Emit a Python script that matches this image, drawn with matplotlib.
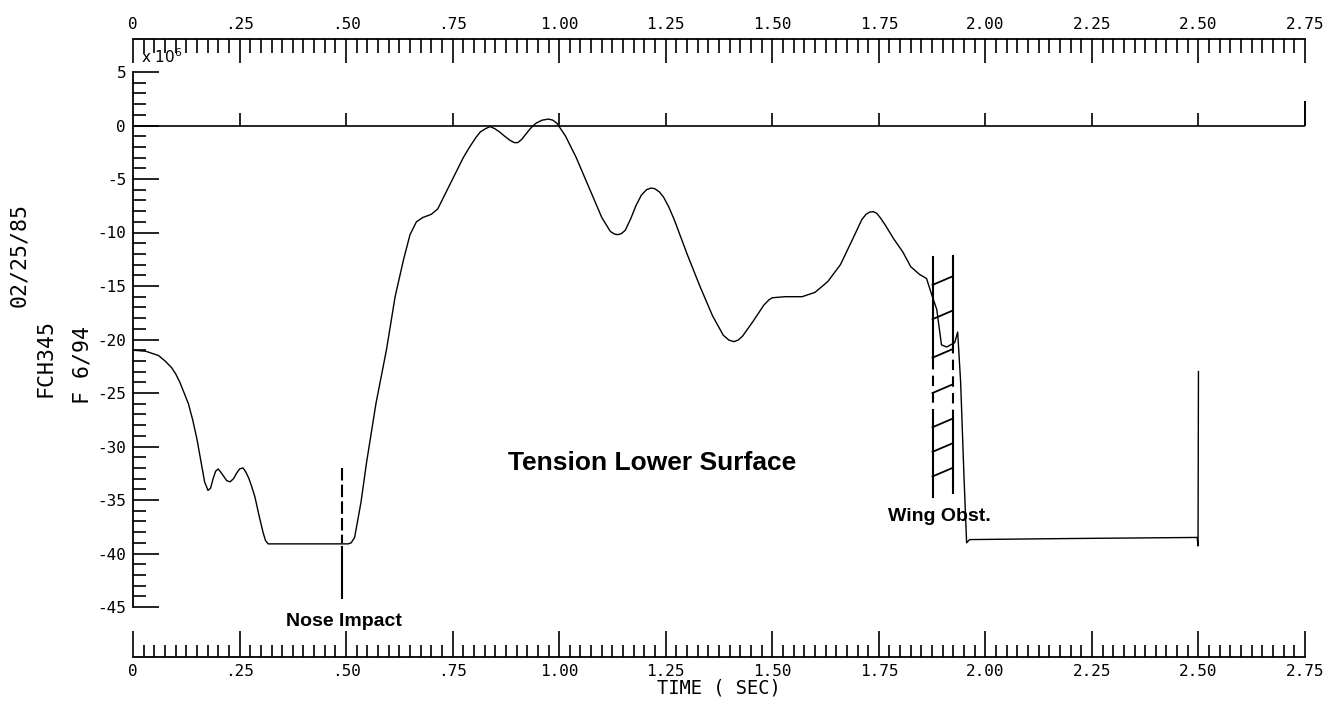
import numpy as np
import matplotlib
matplotlib.use("Agg")
import matplotlib.pyplot as plt
from matplotlib.ticker import MultipleLocator

# Data (time in sec, force x 10^6)
t_vals = [0.0, 0.03, 0.06, 0.075, 0.09, 0.10, 0.11, 0.12, 0.13, 0.14,
          0.15, 0.16, 0.168, 0.176, 0.182, 0.188, 0.194, 0.200, 0.206, 0.213,
          0.220, 0.228, 0.236, 0.243, 0.250, 0.258, 0.265, 0.272, 0.279, 0.286,
          0.296, 0.305, 0.311, 0.317, 0.40, 0.505, 0.512, 0.52, 0.535, 0.548,
          0.570, 0.595, 0.615, 0.635, 0.650, 0.665, 0.680, 0.700, 0.715, 0.730,
          0.755, 0.775, 0.790, 0.805, 0.815, 0.827, 0.838, 0.849, 0.860, 0.872,
          0.885, 0.895, 0.903, 0.912, 0.920, 0.932, 0.945, 0.960, 0.975, 0.985,
          0.995, 1.005, 1.015, 1.04, 1.07, 1.10, 1.12, 1.13, 1.138, 1.146,
          1.155, 1.168, 1.18, 1.193, 1.205, 1.215, 1.224, 1.235, 1.245, 1.257,
          1.27, 1.30, 1.33, 1.36, 1.385, 1.398, 1.41, 1.42, 1.43, 1.455,
          1.48, 1.492, 1.50, 1.53, 1.57, 1.60, 1.63, 1.66, 1.69, 1.71,
          1.72, 1.728, 1.737, 1.745, 1.755, 1.765, 1.785, 1.806, 1.825, 1.845,
          1.862, 1.874, 1.886, 1.897, 1.909, 1.928, 1.935, 1.942, 1.950, 1.956,
          1.963, 2.20, 2.497, 2.499, 2.500]
f_vals = [-21.0, -21.1, -21.5, -22.0, -22.6, -23.2, -24.0, -25.0, -26.0, -27.5,
          -29.3, -31.5, -33.3, -34.1, -33.9, -33.0, -32.3, -32.1, -32.4, -32.8,
          -33.2, -33.3, -33.0, -32.5, -32.1, -32.0, -32.4, -33.0, -33.8, -34.7,
          -36.5, -38.0, -38.8, -39.1, -39.1, -39.1, -39.0, -38.5, -35.2, -31.5,
          -26.0, -20.9, -16.0, -12.5, -10.2, -9.0, -8.6, -8.3, -7.8, -6.6,
          -4.6, -3.0, -2.0, -1.1, -0.6, -0.3, -0.1, -0.3, -0.6, -1.0,
          -1.4, -1.6, -1.6, -1.3, -0.9, -0.3, 0.2, 0.5, 0.6, 0.5,
          0.2, -0.4, -1.0, -3.0, -5.8, -8.6, -9.9, -10.15, -10.2, -10.1,
          -9.8, -8.7, -7.5, -6.5, -6.0, -5.85, -5.9, -6.2, -6.7, -7.6,
          -8.8, -12.0, -15.0, -17.8, -19.6, -20.05, -20.2, -20.05, -19.7, -18.3,
          -16.8, -16.3, -16.1, -16.0, -16.0, -15.6, -14.6, -13.0, -10.5, -8.8,
          -8.3, -8.1, -8.05, -8.2, -8.7, -9.3, -10.6, -11.8, -13.2, -13.9,
          -14.3, -15.8, -17.2, -20.5, -20.7, -20.3, -19.3, -24.0, -33.0, -39.0,
          -38.7, -38.6, -38.5, -39.3, -23.0]

x_ticks = [0, 0.25, 0.5, 0.75, 1.0, 1.25, 1.5, 1.75, 2.0, 2.25, 2.5, 2.75]
x_labels = ["0", ".25", ".50", ".75", "1.00", "1.25", "1.50", "1.75",
            "2.00", "2.25", "2.50", "2.75"]
y_ticks = [5, 0, -5, -10, -15, -20, -25, -30, -35, -40, -45]
y_labels = ["5", "0", "-5", "-10", "-15", "-20", "-25", "-30", "-35", "-40", "-45"]

# event markers
nose_t = 0.49
wing_t = [1.876, 1.923]
hatch_levels = [-14.9, -18.1, -21.7, -25.0, -28.2, -30.5, -32.8]

W, H = 1342, 710
fig = plt.figure(figsize=(W / 100, H / 100), dpi=100)
ax = fig.add_axes([133 / W, 1 - 607 / H, 1172 / W, 535 / H])
ax.set_xlim(0, 2.75)
ax.set_ylim(-45, 5)

for s in ["top", "right", "bottom"]:
    ax.spines[s].set_visible(False)
ax.spines["left"].set_linewidth(1.3)
ax.tick_params(axis="x", bottom=False, labelbottom=False)

mono = "DejaVu Sans Mono"
tick_font = dict(family=mono, size=11.5)
ax.set_yticks(y_ticks, y_labels, **tick_font)
ax.yaxis.set_minor_locator(MultipleLocator(1))
ax.tick_params(axis="y", which="major", direction="in", length=19, width=1.2, pad=5)
ax.tick_params(axis="y", which="minor", direction="in", length=9, width=1.2)

# top and bottom time scales
top = ax.secondary_xaxis(1 + 33 / 535)
bot = ax.secondary_xaxis(-50 / 535)
for sx, side, maj, mnr in [(top, "top", 17, 10), (bot, "bottom", 19, 9)]:
    sx.set_xticks(x_ticks, x_labels, **tick_font)
    sx.xaxis.set_minor_locator(MultipleLocator(0.025))
    sx.tick_params(which="major", direction="in", length=maj, width=1.2, pad=5)
    sx.tick_params(which="minor", direction="in", length=mnr, width=1.2)
    sx.spines[side].set_linewidth(1.3)
bot.set_xlabel("TIME ( SEC)", fontsize=13.5, family=mono, labelpad=0)

# zero line with small ticks
ax.plot([0, 2.75], [0, 0], color="black", lw=1.2)
ax.vlines(x_ticks[1:-1], 0, 1.2, color="black", lw=1.2)
ax.vlines([2.75], 0, 2.3, color="black", lw=1.4, clip_on=False)

# data curve
ax.plot(t_vals, f_vals, color="black", lw=1.0)

# nose impact marker
ax.plot([nose_t, nose_t], [-32, -39.0], color="black", lw=1.5, ls=(0, (6, 2)))
ax.plot([nose_t, nose_t], [-39.4, -44.2], color="black", lw=1.5)
ax.text(nose_t + 0.005, -46.4, "Nose Impact", ha="center", va="center",
        fontsize=14, fontweight="bold", family="Liberation Sans", clip_on=False)

# wing obstruction hatching
tl, tr = wing_t
ax.plot([tl, tl], [-12.3, -21.8], color="black", lw=1.5)
ax.plot([tl, tl], [-21.8, -27.0], color="black", lw=1.5, ls=(0, (5, 3)))
ax.plot([tl, tl], [-27.0, -34.7], color="black", lw=1.5)
ax.plot([tr, tr], [-12.2, -20.3], color="black", lw=1.5)
ax.plot([tr, tr], [-20.3, -27.0], color="black", lw=1.5, ls=(0, (5, 3)))
ax.plot([tr, tr], [-27.0, -34.3], color="black", lw=1.5)
for yl in hatch_levels:
    ax.plot([tl, tr], [yl, yl + 0.8], color="black", lw=1.3)
ax.text(1.893, -36.5, "Wing Obst.", ha="center", va="center",
        fontsize=14, fontweight="bold", family="Liberation Sans")

ax.text(1.217, -31.5, "Tension Lower Surface", ha="center", va="center",
        fontsize=19, fontweight="bold", family="Liberation Sans")

# side annotations
fig.text(19 / W, 1 - 255 / H, "02/25/85", rotation=90, ha="center", va="center",
         fontsize=15.5, family=mono)
fig.text(46 / W, 1 - 358 / H, "FCH345", rotation=90, ha="center", va="center",
         fontsize=15.5, family=mono)
fig.text(82 / W, 1 - 365 / H, "F 6/94", rotation=90, ha="center", va="center",
         fontsize=15.5, family=mono)
fig.text(141 / W, 1 - 57 / H, r"x 10$^6$", ha="left", va="center",
         fontsize=11, family="DejaVu Sans")

fig.savefig("out.png", dpi=100)
